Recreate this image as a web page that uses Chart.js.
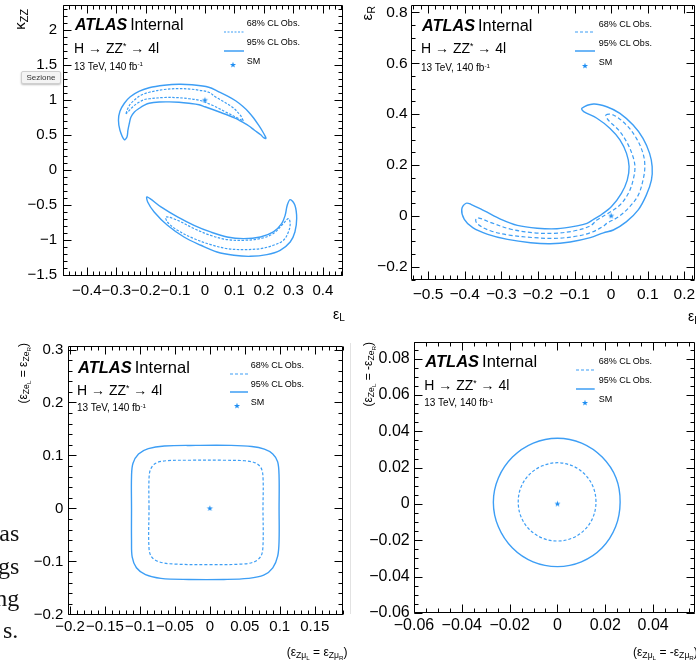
<!DOCTYPE html>
<html><head><meta charset="utf-8">
<script src="https://cdn.jsdelivr.net/npm/chart.js@4.4.1/dist/chart.umd.min.js"></script>
<style>
html,body{margin:0;padding:0;background:#fff;width:696px;height:664px;overflow:hidden;}
body{position:relative;font-family:"Liberation Sans",Arial,sans-serif;}
canvas{position:absolute;}
.t{position:absolute;white-space:nowrap;line-height:1;color:#000;}
.sup{font-size:0.62em;position:relative;top:-0.5em;}
.sub{font-size:0.72em;position:relative;top:0.28em;}
.serif{position:absolute;font-family:"Liberation Serif","Times New Roman",serif;font-size:24px;line-height:1;color:#111;white-space:nowrap;text-align:right;}
.tip{position:absolute;left:21px;top:70.5px;width:38px;height:11px;background:#f4f4f4;border:1px solid #cfcfcf;border-radius:2px;box-shadow:0 1px 2px rgba(0,0,0,0.25);font-size:8px;line-height:11px;text-align:center;color:#333;}
</style></head>
<body>
<canvas id="c1" width="348" height="330" style="left:0px;top:0px"></canvas>
<canvas id="c2" width="352" height="330" style="left:348px;top:0px"></canvas>
<canvas id="c3" width="348" height="334" style="left:0px;top:330px"></canvas>
<canvas id="c4" width="352" height="334" style="left:348px;top:330px"></canvas>
<div style="position:absolute;left:350px;top:343px;width:1px;height:271px;background:#e2e2e2"></div>
<div class="serif" style="right:676.7px;top:520.6px">as</div>
<div class="serif" style="right:676.7px;top:553.5px">gs</div>
<div class="serif" style="right:676.7px;top:586.4px">ng</div>
<div class="serif" style="right:677.7px;top:618px">s.</div>
<script>
// ---------------- data ----------------
// Panel 1: kappa_ZZ vs eps_L
const p1XTicks = [-0.4, -0.3, -0.2, -0.1, 0, 0.1, 0.2, 0.3, 0.4];
const p1YTicks = [-1.5, -1, -0.5, 0, 0.5, 1, 1.5, 2];
const p1Upper95 = [[-0.273,0.436],[-0.288,0.571],[-0.293,0.714],[-0.288,0.843],[-0.273,0.957],[-0.253,1.050],[-0.222,1.129],[-0.189,1.179],[-0.138,1.214],[-0.088,1.229],[-0.044,1.221],[0.013,1.186],[0.047,1.121],[0.077,1.060],[0.104,0.993],[0.128,0.914],[0.148,0.833],[0.165,0.746],[0.182,0.643],[0.195,0.557],[0.205,0.480],[0.207,0.455],
  [0.199,0.465],[0.189,0.507],[0.168,0.571],[0.148,0.636],[0.128,0.686],[0.114,0.721],[0.091,0.764],[0.070,0.800],[0.047,0.836],[0.024,0.871],[0.000,0.907],[-0.020,0.936],[-0.054,0.957],[-0.088,0.971],[-0.121,0.976],[-0.155,0.974],[-0.189,0.957],[-0.205,0.929],[-0.222,0.886],[-0.239,0.833],[-0.251,0.757],[-0.256,0.671],[-0.261,0.571],[-0.264,0.479]];
const p1Upper68 = [[-0.267,0.810],[-0.261,0.886],[-0.253,0.943],[-0.236,1.014],[-0.217,1.071],[-0.189,1.114],[-0.138,1.153],[-0.088,1.167],[-0.044,1.157],[-0.020,1.143],[0.013,1.114],[0.036,1.047],[0.092,0.904],[0.120,0.786],[0.128,0.724],[0.130,0.707],
  [0.114,0.739],[0.070,0.833],[0.025,0.929],[-0.020,1.000],[-0.054,1.021],[-0.088,1.036],[-0.138,1.039],[-0.189,1.021],[-0.205,1.010],[-0.229,0.957],[-0.245,0.904],[-0.259,0.843]];
const p1Lower95 = [[-0.196,-0.381],[-0.149,-0.524],[-0.093,-0.667],[-0.037,-0.786],[0.019,-0.881],[0.075,-0.953],[0.131,-0.976],[0.188,-0.953],[0.232,-0.881],[0.260,-0.761],[0.272,-0.643],[0.279,-0.500],[0.289,-0.419],
  [0.305,-0.500],[0.311,-0.690],[0.305,-0.881],[0.289,-1.024],[0.255,-1.143],[0.210,-1.204],[0.154,-1.229],[0.098,-1.214],[0.041,-1.167],[-0.014,-1.071],[-0.071,-0.953],[-0.127,-0.786],[-0.172,-0.596],[-0.194,-0.453]];
const p1Lower68 = [[-0.132,-0.667],[-0.093,-0.714],[-0.037,-0.833],[0.019,-0.929],[0.075,-0.990],[0.131,-1.000],[0.188,-0.976],[0.232,-0.904],[0.266,-0.761],[0.283,-0.690],
  [0.289,-0.761],[0.283,-0.881],[0.266,-1.000],[0.232,-1.071],[0.188,-1.119],[0.131,-1.133],[0.075,-1.119],[0.019,-1.061],[-0.037,-0.976],[-0.093,-0.857],[-0.127,-0.739]];
const p1SM = [[0, 1]];

// Panel 2: eps_R vs eps_L
const p2XTicks = [-0.5, -0.4, -0.3, -0.2, -0.1, 0, 0.1, 0.2];
const p2YTicks = [-0.2, 0, 0.2, 0.4, 0.6, 0.8];
const p2CL95 = [[-0.080,0.423],[-0.048,0.440],[-0.012,0.429],[0.024,0.403],[0.060,0.357],[0.087,0.305],[0.105,0.246],[0.112,0.194],[0.110,0.141],[0.096,0.082],[0.074,0.024],[0.042,-0.022],[0.006,-0.055],[-0.021,-0.066],[-0.057,-0.085],[-0.112,-0.102],[-0.166,-0.109],[-0.220,-0.105],[-0.283,-0.092],[-0.337,-0.072],[-0.378,-0.046],[-0.401,-0.013],[-0.408,0.026],[-0.396,0.050],
  [-0.383,0.046],[-0.346,0.020],[-0.301,-0.013],[-0.256,-0.037],[-0.202,-0.048],[-0.148,-0.050],[-0.093,-0.039],[-0.066,-0.029],[-0.048,-0.013],[-0.026,0.006],[0.001,0.037],[0.028,0.089],[0.044,0.141],[0.049,0.194],[0.042,0.246],[0.024,0.299],[-0.003,0.344],[-0.039,0.384],[-0.075,0.410]];
const p2CL68 = [[-0.014,0.397],[0.006,0.397],[0.042,0.357],[0.069,0.305],[0.087,0.246],[0.092,0.194],[0.087,0.141],[0.074,0.082],[0.051,0.037],[0.020,-0.003],[-0.012,-0.029],[-0.021,-0.040],[-0.057,-0.066],[-0.102,-0.081],[-0.157,-0.088],[-0.211,-0.085],[-0.274,-0.076],[-0.328,-0.059],[-0.364,-0.033],[-0.370,-0.016],
  [-0.364,-0.007],[-0.328,-0.026],[-0.274,-0.052],[-0.211,-0.066],[-0.157,-0.068],[-0.102,-0.059],[-0.057,-0.039],[-0.039,-0.016],[-0.008,0.011],[0.024,0.043],[0.047,0.089],[0.060,0.141],[0.065,0.194],[0.058,0.240],[0.042,0.292],[0.020,0.338],[-0.008,0.377]];
const p2SM = [[0, 0]];

// Panel 3: eps_Ze vs eps_Zmu (L = R)
const p3XTicks = [-0.2, -0.15, -0.1, -0.05, 0, 0.05, 0.1, 0.15];
const p3YTicks = [-0.2, -0.1, 0, 0.1, 0.2, 0.3];
const p3CL95 = [[-0.112,0.000],[-0.112,0.060],[-0.110,0.085],[-0.102,0.103],[-0.088,0.113],[-0.065,0.118],[-0.020,0.119],[0.030,0.119],[0.060,0.117],[0.078,0.112],[0.090,0.103],[0.097,0.088],[0.099,0.060],[0.099,0.000],[0.099,-0.060],[0.097,-0.090],[0.090,-0.112],[0.077,-0.126],[0.055,-0.132],[0.020,-0.134],[-0.030,-0.134],[-0.070,-0.132],[-0.092,-0.125],[-0.105,-0.112],[-0.111,-0.092],[-0.112,-0.060]];
const p3CL68 = [[-0.087,0.000],[-0.087,0.055],[-0.085,0.073],[-0.078,0.085],[-0.063,0.090],[-0.030,0.091],[0.020,0.091],[0.050,0.090],[0.065,0.086],[0.073,0.077],[0.076,0.060],[0.076,0.000],[0.076,-0.070],[0.073,-0.090],[0.063,-0.101],[0.045,-0.105],[0.000,-0.106],[-0.050,-0.105],[-0.072,-0.101],[-0.083,-0.092],[-0.087,-0.075]];
const p3SM = [[0, 0]];

// Panel 4: eps_Ze vs eps_Zmu (L = -R)
const p4XTicks = [-0.06, -0.04, -0.02, 0, 0.02, 0.04];
const p4YTicks = [-0.06, -0.04, -0.02, 0, 0.02, 0.04, 0.06, 0.08];
const p4CL95 = [[0.0262,0.0010],[0.0245,0.0143],[0.0187,0.0258],[0.0101,0.0335],[0.0000,0.0362],[-0.0101,0.0335],[-0.0188,0.0258],[-0.0247,0.0143],[-0.0268,0.0010],[-0.0247,-0.0126],[-0.0188,-0.0243],[-0.0102,-0.0319],[0.0000,-0.0345],[0.0100,-0.0319],[0.0186,-0.0243],[0.0243,-0.0126]];
const p4CL68 = [[0.0161,0.0012],[0.0149,0.0094],[0.0114,0.0164],[0.0062,0.0210],[0.0000,0.0227],[-0.0063,0.0210],[-0.0116,0.0164],[-0.0152,0.0094],[-0.0164,0.0012],[-0.0152,-0.0072],[-0.0116,-0.0142],[-0.0063,-0.0188],[0.0000,-0.0204],[0.0062,-0.0188],[0.0114,-0.0142],[0.0149,-0.0072]];
const p4SM = [[0, 0]];

// ---------------- drawing ----------------
const COLOR = '#3d9ef5';
const STAR = '#1f8ef2';
Chart.defaults.font.family = "'Liberation Sans', Arial, sans-serif";

const starImg = document.createElement('canvas');
starImg.width = 9; starImg.height = 9;
(function(){
  const c = starImg.getContext('2d'); c.fillStyle = STAR; c.beginPath();
  for (let i = 0; i < 10; i++) {
    const r = i % 2 ? 1.3 : 3.2, a = -Math.PI / 2 + i * Math.PI / 5;
    const X = 4.5 + r * Math.cos(a), Y = 4.5 + r * Math.sin(a);
    i ? c.lineTo(X, Y) : c.moveTo(X, Y);
  }
  c.closePath(); c.fill();
})();

const toPts = a => a.map(p => ({x: p[0], y: p[1]}));
function contour(arr, dashed, dash) {
  return {data: toPts(arr), closed: true, borderColor: COLOR, borderWidth: dashed ? 1.2 : 1.4,
    borderDash: dashed ? dash : [], pointRadius: 0, tension: 0.35, fill: false};
}
function sm(arr) {
  return {data: toPts(arr), showLine: false, pointStyle: starImg, pointRadius: 3, borderColor: STAR, backgroundColor: STAR};
}
function fmt(v) {
  const r = Math.round(v * 1000) / 1000;
  if (r === 0) return '0';
  const s = String(Math.abs(r));
  return r < 0 ? '\u2212' + s : s;
}

const loopPlugin = {
  id: 'closedLoops',
  afterDatasetsUpdate(chart) {
    chart.data.datasets.forEach((ds, i) => {
      if (!ds.closed) return;
      const line = chart.getDatasetMeta(i).dataset;
      if (!line) return;
      line._loop = true; line._fullLoop = true; line._pointsUpdated = false;
      delete line._segments; delete line._path;
    });
  }
};

function framePlugin(cfg) {
  return {
    id: 'frame',
    afterDatasetsDraw(chart) {
      const {ctx, chartArea: a, scales: {x, y}} = chart;
      const L = Math.round(a.left) + 0.5, R = Math.round(a.right) - 0.5;
      const T = Math.round(a.top) + 0.5, B = Math.round(a.bottom) - 0.5;
      ctx.save();
      ctx.strokeStyle = '#000'; ctx.lineWidth = 1;
      ctx.beginPath();
      ctx.rect(L, T, R - L, B - T);
      const xt = (v, len) => { const p = Math.round(x.getPixelForValue(v)) + 0.5; ctx.moveTo(p, B); ctx.lineTo(p, B - len); ctx.moveTo(p, T); ctx.lineTo(p, T + len); };
      const yt = (v, len) => { const p = Math.round(y.getPixelForValue(v)) + 0.5; ctx.moveTo(L, p); ctx.lineTo(L + len, p); ctx.moveTo(R, p); ctx.lineTo(R - len, p); };
      const minor = (sc, step, fn) => {
        for (let k = Math.ceil(sc.min / step - 1e-6); k * step <= sc.max + 1e-9; k++) fn(k * step, 4);
      };
      minor(x, cfg.xMinor, xt); minor(y, cfg.yMinor, yt);
      cfg.xTicks.forEach(v => xt(v, 8)); cfg.yTicks.forEach(v => yt(v, 8));
      ctx.stroke();
      ctx.restore();
    }
  };
}

function makeChart(id, cfg, datasets) {
  const cv = document.getElementById(id);
  const W = cv.width, H = cv.height;
  new Chart(cv, {
    type: 'line',
    data: {datasets},
    options: {
      responsive: false, animation: false, events: [], devicePixelRatio: 1,
      layout: {padding: {left: 0, top: cfg.area[1], right: W - cfg.area[2], bottom: 0}},
      plugins: {legend: {display: false}, tooltip: {enabled: false}},
      scales: {
        x: {type: 'linear', min: cfg.xr[0], max: cfg.xr[1],
          grid: {display: false, drawTicks: false}, border: {display: false},
          ticks: {font: {size: cfg.fs}, color: '#000', padding: cfg.padX, maxRotation: 0, minRotation: 0, autoSkip: false, includeBounds: false, callback: fmt},
          afterBuildTicks: s => { s.ticks = cfg.xTicks.map(v => ({value: v})); },
          afterFit: s => { s.height = H - cfg.area[3]; s.paddingLeft = 0; s.paddingRight = 0; s.paddingTop = 0; s.paddingBottom = 0; }},
        y: {type: 'linear', min: cfg.yr[0], max: cfg.yr[1],
          grid: {display: false, drawTicks: false}, border: {display: false},
          ticks: {font: {size: cfg.fs}, color: '#000', padding: cfg.padY, autoSkip: false, includeBounds: false, callback: fmt},
          afterBuildTicks: s => { s.ticks = cfg.yTicks.map(v => ({value: v})); },
          afterFit: s => { s.width = cfg.area[0]; s.paddingLeft = 0; s.paddingRight = 0; s.paddingTop = 0; s.paddingBottom = 0; }}
      }
    },
    plugins: [loopPlugin, framePlugin(cfg)]
  });
}

makeChart('c1', {area: [63, 5, 345, 276], xr: [-0.481, 0.468], yr: [-1.51, 2.36], xTicks: p1XTicks, yTicks: p1YTicks, xMinor: 0.02, yMinor: 0.1, fs: 15, padX: 6, padY: 6},
  [contour(p1Upper95, false), contour(p1Upper68, true, [2.5, 1.5]), contour(p1Lower95, false), contour(p1Lower68, true, [2.5, 1.5]), sm(p1SM)]);
makeChart('c2', {area: [62.7, 5, 349, 280], xr: [-0.5474, 0.229], yr: [-0.2514, 0.8287], xTicks: p2XTicks, yTicks: p2YTicks, xMinor: 0.02, yMinor: 0.05, fs: 15.5, padX: 5, padY: 3},
  [contour(p2CL95, false), contour(p2CL68, true, [4, 2.5]), sm(p2SM)]);
makeChart('c3', {area: [68.3, 15.7, 343.3, 285], xr: [-0.2024, 0.1904], yr: [-0.2011, 0.3072], xTicks: p3XTicks, yTicks: p3YTicks, xMinor: 0.01, yMinor: 0.02, fs: 15, padX: 3, padY: 5},
  [contour(p3CL95, false), contour(p3CL68, true, [3, 2]), sm(p3SM)]);
makeChart('c4', {area: [65.7, 12.3, 349, 283.3], xr: [-0.0601, 0.0575], yr: [-0.0602, 0.089], xTicks: p4XTicks, yTicks: p4YTicks, xMinor: 0.005, yMinor: 0.005, fs: 16, padX: 3, padY: 4},
  [contour(p4CL95, false), contour(p4CL68, true, [3, 2]), sm(p4SM)]);

// ---------------- annotations ----------------
function addText(html, left, baseline, size, extra) {
  const d = document.createElement('div');
  d.className = 't'; d.innerHTML = html;
  d.style.left = left + 'px'; d.style.top = (baseline - 0.8465 * size) + 'px'; d.style.fontSize = size + 'px';
  if (extra) Object.assign(d.style, extra);
  document.body.appendChild(d);
}
function addYTitle(html, x, topEnd, size) {
  const w = document.createElement('div');
  w.style.cssText = 'position:absolute;left:' + x + 'px;top:' + topEnd + 'px;width:0;height:0;';
  const s = document.createElement('div');
  s.className = 't'; s.innerHTML = html;
  s.style.right = '0px'; s.style.top = '0px'; s.style.fontSize = size + 'px';
  s.style.transformOrigin = '100% 0'; s.style.transform = 'rotate(-90deg)';
  w.appendChild(s); document.body.appendChild(w);
}
function svgEl(left, top, w, h, inner) {
  const d = document.createElement('div');
  d.style.cssText = 'position:absolute;left:' + left + 'px;top:' + top + 'px;width:' + w + 'px;height:' + h + 'px;';
  d.innerHTML = '<svg width="' + w + '" height="' + h + '" xmlns="http://www.w3.org/2000/svg">' + inner + '</svg>';
  document.body.appendChild(d);
}
function starPath(cx, cy) {
  let p = '';
  for (let i = 0; i < 10; i++) {
    const r = i % 2 ? 1.3 : 3.2, a = -Math.PI / 2 + i * Math.PI / 5;
    p += (i ? 'L' : 'M') + (cx + r * Math.cos(a)).toFixed(2) + ' ' + (cy + r * Math.sin(a)).toFixed(2);
  }
  return '<path d="' + p + 'Z" fill="' + STAR + '"/>';
}
function panelText(x, bAtlas, bH, bLumi, atlasSize) {
  addText('<b><i>ATLAS</i></b><span style="margin-left:3px">Internal</span>', x, bAtlas, atlasSize);
  addText('H \u2192 ZZ<span class="sup">*</span> \u2192 4l', x - 1, bH, 14);
  addText('13 TeV, 140 fb<span class="sup">-1</span>', x - 1, bLumi, 10);
}
function legend(x1, x2, tx, y68, y95, ySM, sx, dash) {
  svgEl(x1, y68 - 3, x2 - x1, 6, '<line x1="0" y1="3" x2="' + (x2 - x1) + '" y2="3" stroke="' + COLOR + '" stroke-width="1.2" stroke-dasharray="' + dash + '"/>');
  svgEl(x1, y95 - 3, x2 - x1, 6, '<line x1="0" y1="3" x2="' + (x2 - x1) + '" y2="3" stroke="' + COLOR + '" stroke-width="1.5"/>');
  svgEl(sx - 5, ySM - 5, 10, 10, starPath(5, 5));
  addText('68% CL Obs.', tx, y68 + 3.2, 9);
  addText('95% CL Obs.', tx, y95 + 3.2, 9);
  addText('SM', tx, ySM + 3.2, 9);
}

panelText(75, 30.7, 53.3, 70, 16);
legend(224, 244, 246.7, 23.5, 42.7, 61, 233.3, '2,1.5');
panelText(422, 30.7, 53.3, 71.7, 16.3);
legend(574.7, 594.7, 598.7, 24, 43.3, 62.3, 585.3, '3,2');
panelText(78, 372.7, 395, 411.7, 16.5);
legend(230, 248, 250.7, 365.7, 384, 402.3, 237.3, '3,2');
panelText(425.3, 367.3, 390, 406.7, 16.5);
legend(576, 594.7, 598.7, 361.7, 380.7, 399, 585.3, '3,2');

addYTitle('\u03BA<span class="sub">ZZ</span>', 12, 9, 15);
addYTitle('\u03B5<span class="sub">R</span>', 358.5, 6, 15);
addYTitle('(\u03B5<span class="sub">Ze<span class="sub">L</span></span> = \u03B5<span class="sub">Ze<span class="sub">R</span></span>)', 16.6, 343, 12);
addYTitle('(\u03B5<span class="sub">Ze<span class="sub">L</span></span> = -\u03B5<span class="sub">Ze<span class="sub">R</span></span>)', 361.6, 342, 12);

addText('\u03B5<span class="sub">L</span>', 333, 318.5, 14);
addText('\u03B5<span class="sub">L</span>', 688, 321, 14);
addText('(\u03B5<span class="sub">Z\u03BC<span class="sub">L</span></span> = \u03B5<span class="sub">Z\u03BC<span class="sub">R</span></span>)', 286.7, 656, 12);
addText('(\u03B5<span class="sub">Z\u03BC<span class="sub">L</span></span> = -\u03B5<span class="sub">Z\u03BC<span class="sub">R</span></span>)', 633, 656, 12);

const tip = document.createElement('div'); tip.className = 'tip'; tip.textContent = 'Sezione';
document.body.appendChild(tip);
</script>
</body></html>
